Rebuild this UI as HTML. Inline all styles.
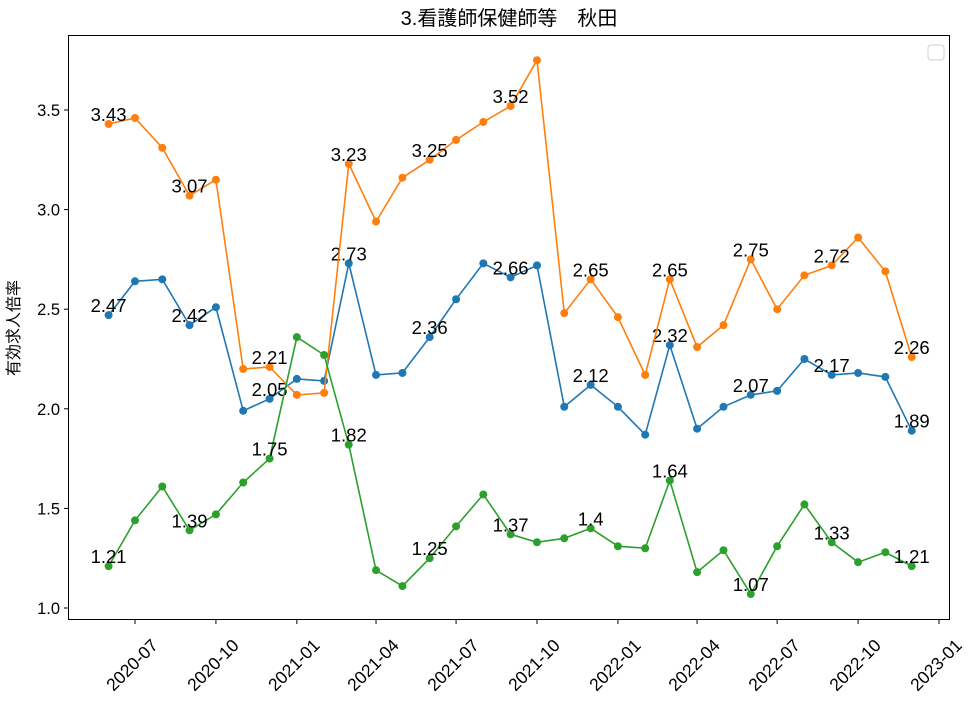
<!DOCTYPE html>
<html><head><meta charset="utf-8"><style>
body{margin:0;background:#fff;}
svg text{font-family:"Liberation Sans","Noto Sans CJK JP",sans-serif;}
</style></head><body>
<svg id="chart" width="973" height="701" xmlns="http://www.w3.org/2000/svg">
<rect width="973" height="701" fill="#fff"/>
<text x="509" y="25" text-anchor="middle" font-size="20" fill="#000">3.看護師保健師等　秋田</text>
<text transform="translate(19,328) rotate(-90)" text-anchor="middle" font-size="16" fill="#000">有効求人倍率</text>
<rect x="928" y="45" width="16" height="15" rx="3" fill="#fff" stroke="#ccc"/>
<g id="g"></g>
<rect x="68.5" y="35.5" width="881" height="584" fill="none" stroke="#000" stroke-width="1"/>
</svg>
<script>
const months = ["2020-06","2020-07","2020-08","2020-09","2020-10","2020-11","2020-12","2021-01","2021-02","2021-03","2021-04","2021-05","2021-06","2021-07","2021-08","2021-09","2021-10","2021-11","2021-12","2022-01","2022-02","2022-03","2022-04","2022-05","2022-06","2022-07","2022-08","2022-09","2022-10","2022-11","2022-12"];
const seriesOrange = [3.43,3.46,3.31,3.07,3.15,2.20,2.21,2.07,2.08,3.23,2.94,3.16,3.25,3.35,3.44,3.52,3.75,2.48,2.65,2.46,2.17,2.65,2.31,2.42,2.75,2.50,2.67,2.72,2.86,2.69,2.26];
const seriesBlue = [2.47,2.64,2.65,2.42,2.51,1.99,2.05,2.15,2.14,2.73,2.17,2.18,2.36,2.55,2.73,2.66,2.72,2.01,2.12,2.01,1.87,2.32,1.90,2.01,2.07,2.09,2.25,2.17,2.18,2.16,1.89];
const seriesGreen = [1.21,1.44,1.61,1.39,1.47,1.63,1.75,2.36,2.27,1.82,1.19,1.11,1.25,1.41,1.57,1.37,1.33,1.35,1.40,1.31,1.30,1.64,1.18,1.29,1.07,1.31,1.52,1.33,1.23,1.28,1.21];
const yTicks = [1.0,1.5,2.0,2.5,3.0,3.5];
const xTicks = ["2020-07","2020-10","2021-01","2021-04","2021-07","2021-10","2022-01","2022-04","2022-07","2022-10","2023-01"];
const NS="http://www.w3.org/2000/svg";
const g=document.getElementById('g');
const t0=Date.UTC(2020,6,1);
function day(s){const [y,m]=s.split('-').map(Number);return (Date.UTC(y,m-1,1)-t0)/86400000;}
function X(s){return 135+day(s)*(804/914);}
function Y(v){return 608-(v-1)*199.2;}
function mk(tag,attrs){const e=document.createElementNS(NS,tag);for(const k in attrs)e.setAttribute(k,attrs[k]);g.appendChild(e);return e;}
yTicks.forEach(v=>{
  const l=mk('line',{x1:64,x2:68,y1:Y(v),y2:Y(v),stroke:'#000'});
  
  
  const t=mk('text',{x:60,y:Y(v)+6,'text-anchor':'end','font-size':16.5});
  t.textContent=v.toFixed(1);
  
  
});
xTicks.forEach(s=>{
  const x=X(s);
  const l=mk('line',{x1:x,x2:x,y1:620,y2:624,stroke:'#000'});
  
  
  const t=mk('text',{transform:`translate(${x-3},${665}) rotate(-45)`,'text-anchor':'middle','dominant-baseline':'central','font-size':17.5});
  t.textContent=s;
  
  
});
function series(vals,color,name){
  const pts=vals.map((v,i)=>X(months[i]).toFixed(1)+','+Y(v).toFixed(1)).join(' ');
  const pl=mk('polyline',{points:pts,fill:'none',stroke:color,'stroke-width':1.6});
  
  
  vals.forEach((v,i)=>{
    const c=mk('circle',{cx:X(months[i]),cy:Y(v),r:4,fill:color});
    
    
    if(i%3===0){
      const t=mk('text',{x:X(months[i]),y:Y(v)-3,'text-anchor':'middle','font-size':18.5,fill:'#000'});
      t.textContent=String(+v.toFixed(2));
      
      
    }
  });
}
series(seriesBlue,'#1f77b4','blue-series');
series(seriesOrange,'#ff7f0e','orange-series');
series(seriesGreen,'#2ca02c','green-series');
</script>
</body></html>
